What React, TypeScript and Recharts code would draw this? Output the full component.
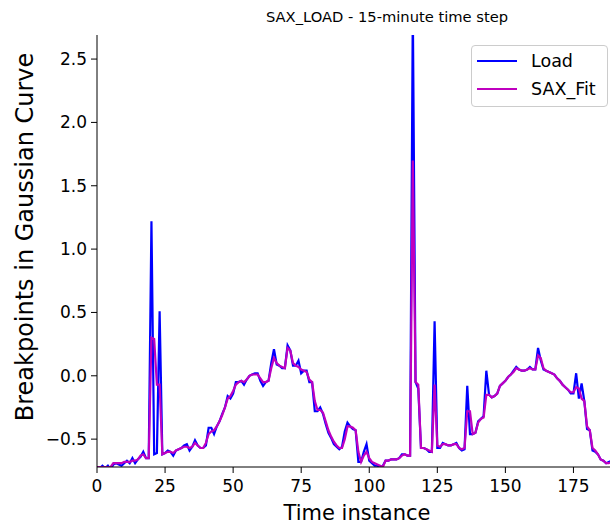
import { LineChart, Line, XAxis, YAxis } from 'recharts';

// time instance = array index (15-minute steps)
const LOAD = [
  -0.72, -0.73, -0.71, -0.73, -0.71, -0.74, -0.70, -0.69, -0.70, -0.71,
  -0.69, -0.67, -0.69, -0.65, -0.69, -0.66, -0.64, -0.60, -0.65, -0.65,
  1.22, -0.62, -0.61, 0.51, -0.62, -0.61, -0.59, -0.60, -0.63, -0.59,
  -0.58, -0.57, -0.55, -0.54, -0.59, -0.56, -0.51, -0.55, -0.57, -0.57,
  -0.55, -0.41, -0.41, -0.46, -0.40, -0.36, -0.30, -0.25, -0.16, -0.18,
  -0.14, -0.05, -0.05, -0.04, -0.07, -0.03, 0.00, 0.01, 0.02, 0.02,
  -0.04, -0.08, -0.05, -0.04, 0.10, 0.21, 0.09, 0.08, 0.06, 0.06,
  0.24, 0.20, 0.08, 0.08, 0.12, 0.02, 0.04, 0.04, -0.05, -0.05,
  -0.28, -0.28, -0.25, -0.30, -0.38, -0.45, -0.49, -0.54, -0.56, -0.58,
  -0.56, -0.44, -0.37, -0.40, -0.42, -0.43, -0.68, -0.68, -0.60, -0.54,
  -0.67, -0.69, -0.71, -0.71, -0.73, -0.71, -0.67, -0.67, -0.66, -0.66,
  -0.66, -0.65, -0.62, -0.62, -0.63, -0.63, 2.90, -0.05, -0.10, -0.57,
  -0.57, -0.58, -0.60, -0.60, 0.43, -0.57, -0.57, -0.53, -0.54, -0.55,
  -0.55, -0.54, -0.53, -0.57, -0.59, -0.58, -0.08, -0.46, -0.46, -0.45,
  -0.36, -0.34, -0.32, 0.04, -0.15, -0.17, -0.16, -0.14, -0.08, -0.06,
  -0.04, -0.01, 0.01, 0.04, 0.07, 0.05, 0.04, 0.04, 0.05, 0.07,
  0.05, 0.05, 0.22, 0.12, 0.05, 0.04, 0.03, 0.02, 0.01, -0.02,
  -0.04, -0.07, -0.09, -0.11, -0.14, -0.14, 0.02, -0.18, -0.06, -0.20,
  -0.42, -0.43, -0.59, -0.60, -0.62, -0.66, -0.67, -0.69, -0.68, -0.67,
];

const SAX_FIT = [
  -0.72, -0.72, -0.72, -0.72, -0.72, -0.72, -0.69, -0.69, -0.69, -0.69,
  -0.68, -0.68, -0.68, -0.67, -0.67, -0.66, -0.63, -0.62, -0.65, -0.65,
  0.30, 0.29, -0.07, -0.07, -0.62, -0.61, -0.60, -0.60, -0.61, -0.59,
  -0.58, -0.57, -0.56, -0.56, -0.57, -0.56, -0.53, -0.55, -0.57, -0.57,
  -0.53, -0.46, -0.44, -0.43, -0.40, -0.36, -0.31, -0.25, -0.18, -0.16,
  -0.12, -0.07, -0.05, -0.04, -0.05, -0.03, 0.00, 0.01, 0.01, 0.01,
  -0.02, -0.05, -0.05, -0.04, 0.06, 0.14, 0.10, 0.08, 0.07, 0.06,
  0.22, 0.20, 0.10, 0.08, 0.07, 0.05, 0.04, 0.03, -0.03, -0.05,
  -0.20, -0.27, -0.27, -0.29, -0.36, -0.43, -0.48, -0.52, -0.55, -0.57,
  -0.57, -0.50, -0.40, -0.40, -0.41, -0.43, -0.60, -0.68, -0.63, -0.60,
  -0.65, -0.68, -0.69, -0.70, -0.71, -0.72, -0.67, -0.67, -0.66, -0.66,
  -0.66, -0.65, -0.63, -0.62, -0.63, -0.63, 1.70, -0.05, -0.07, -0.57,
  -0.57, -0.58, -0.59, -0.60, -0.07, -0.55, -0.56, -0.54, -0.54, -0.55,
  -0.55, -0.54, -0.54, -0.57, -0.58, -0.57, -0.28, -0.28, -0.46, -0.45,
  -0.37, -0.34, -0.33, -0.15, -0.15, -0.17, -0.16, -0.14, -0.08, -0.06,
  -0.04, -0.01, 0.01, 0.03, 0.06, 0.05, 0.04, 0.04, 0.05, 0.06,
  0.05, 0.05, 0.16, 0.14, 0.06, 0.04, 0.03, 0.02, 0.01, -0.02,
  -0.04, -0.07, -0.09, -0.11, -0.13, -0.13, -0.09, -0.10, -0.18, -0.20,
  -0.40, -0.43, -0.57, -0.59, -0.62, -0.66, -0.67, -0.69, -0.69, -0.68,
];

const X_TICKS = [0, 25, 50, 75, 100, 125, 150, 175];
const Y_TICKS = [-0.5, 0, 0.5, 1, 1.5, 2, 2.5];

const FONT = '"DejaVu Sans", sans-serif';
const LOAD_COLOR = '#0000ff';
const SAX_COLOR = '#bf00bf';

const data = LOAD.map((v, i) => ({ t: i, load: v, sax: SAX_FIT[i] }));

function fmtY(v: number) {
  return v < 0 ? '\u2212' + Math.abs(v).toFixed(1) : v.toFixed(1);
}

function LegendBox() {
  const rows = [
    { name: 'Load', color: LOAD_COLOR },
    { name: 'SAX_Fit', color: SAX_COLOR },
  ];
  return (
    <div style={{
      position: 'absolute', left: 471, top: 45, width: 135, height: 60,
      border: '1px solid #cccccc', borderRadius: 4, background: 'rgba(255,255,255,0.8)',
      fontFamily: FONT, fontSize: 17.5, color: '#000',
    }}>
      {rows.map((r, i) => (
        <div key={r.name} style={{ position: 'absolute', left: 5, top: 1 + i * 28, height: 28, display: 'flex', alignItems: 'center' }}>
          <span style={{ display: 'inline-block', width: 40, height: 2, background: r.color }} />
          <span style={{ marginLeft: 14, lineHeight: '28px' }}>{r.name}</span>
        </div>
      ))}
    </div>
  );
}

export default function App() {
  return (
    <div style={{ position: 'absolute', left: 0, top: 0, width: 610, height: 524, overflow: 'hidden', background: '#fff' }}>
      <div style={{
        position: 'absolute', left: 187, width: 400, top: 8, textAlign: 'center',
        fontFamily: FONT, fontSize: 14.7, lineHeight: '18px', color: '#000',
      }}>
        SAX_LOAD - 15-minute time step
      </div>
      <LineChart width={620} height={524} data={data} margin={{ top: 35, right: 3, left: 0, bottom: 0 }}>
        <XAxis
          dataKey="t" type="number" domain={[0, 191]} allowDataOverflow ticks={X_TICKS}
          height={57} tickSize={6} tickMargin={7}
          axisLine={{ stroke: '#000' }} tickLine={{ stroke: '#000' }}
          tick={{ fill: '#000', fontSize: 17, fontFamily: FONT }}
          label={{
            content: (p: any) => {
              const vb = p.viewBox;
              return (
                <text x={vb.x + vb.width / 2} y={520} textAnchor="middle" fontSize={21} fontFamily={FONT} fill="#000">
                  Time instance
                </text>
              );
            },
          }}
        />
        <XAxis xAxisId="top" orientation="top" dataKey="t" type="number" domain={[0, 191]} height={0}
          tick={false} tickLine={false} axisLine={{ stroke: '#000' }} />
        <YAxis
          type="number" domain={[-0.72, 2.69]} allowDataOverflow ticks={Y_TICKS} width={97}
          tickSize={6} tickMargin={4} tickFormatter={fmtY}
          axisLine={{ stroke: '#000' }} tickLine={{ stroke: '#000' }}
          tick={{ fill: '#000', fontSize: 17, fontFamily: FONT }}
          label={{
            content: () => (
              <text x={33} y={237} transform="rotate(-90, 33, 237)" textAnchor="middle" fontSize={24} fontFamily={FONT} fill="#000">
                Breakpoints in Gaussian Curve
              </text>
            ),
          }}
        />
        <Line type="linear" dataKey="load" name="Load" stroke={LOAD_COLOR} strokeWidth={2.2} dot={false} isAnimationActive={false} />
        <Line type="linear" dataKey="sax" name="SAX_Fit" stroke={SAX_COLOR} strokeWidth={2.2} dot={false} isAnimationActive={false} />
      </LineChart>
      <LegendBox />
    </div>
  );
}
